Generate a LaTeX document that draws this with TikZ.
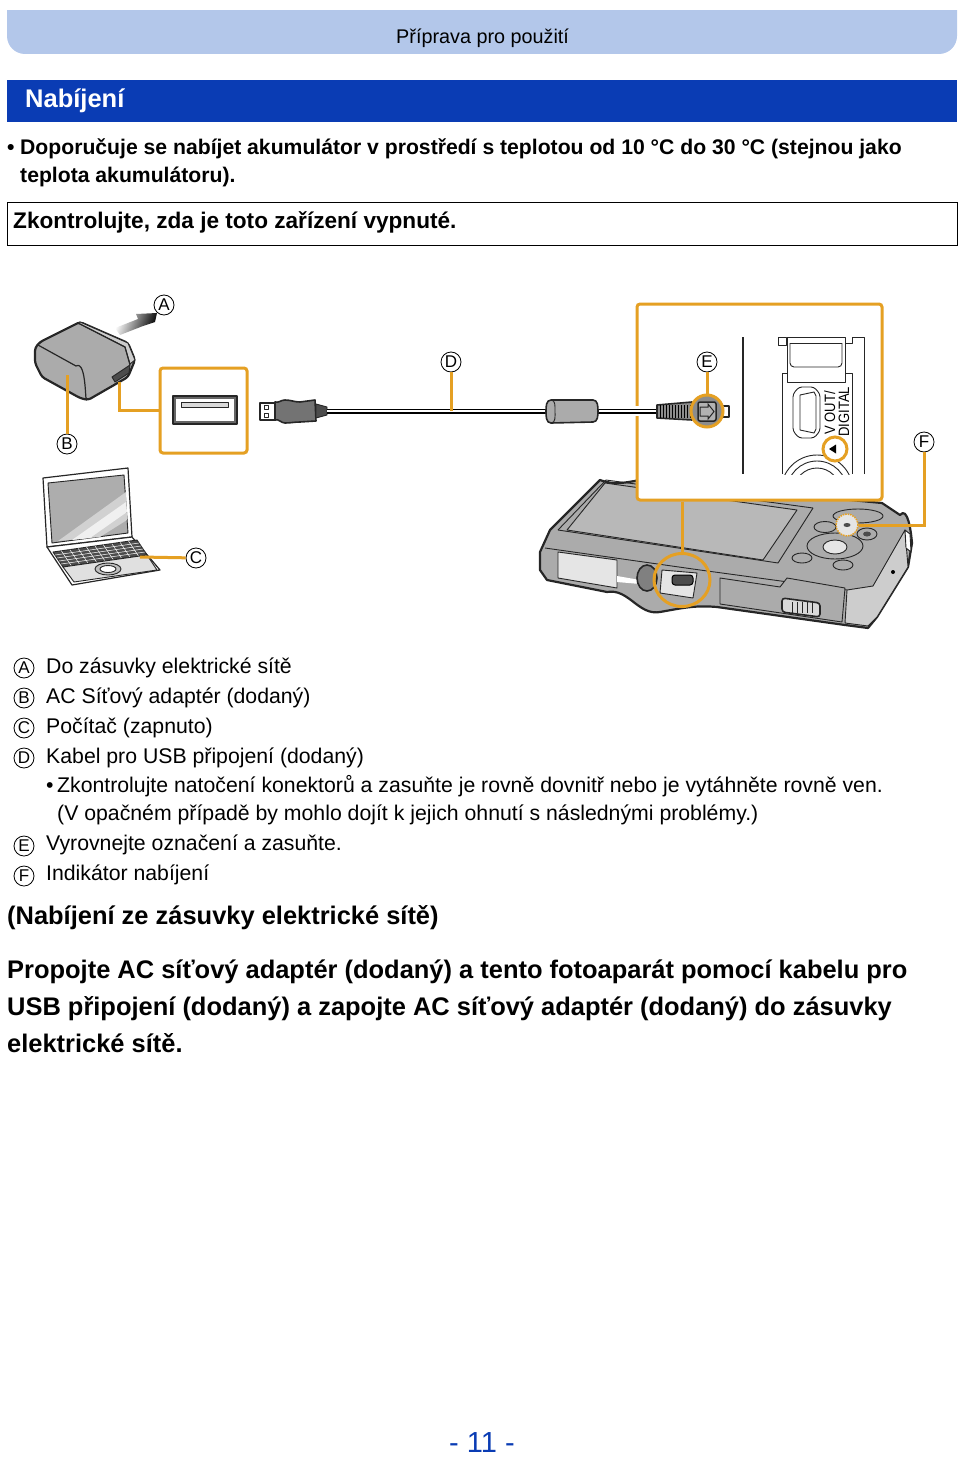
\documentclass[tikz,border=0pt]{standalone}
\usepackage{fontspec}
\setmainfont{Liberation Sans}
\usepackage{xcolor}
\usetikzlibrary{arrows.meta, positioning, calc, shapes.geometric}
\definecolor{leadcol}{HTML}{E5A023}
\definecolor{headcol}{HTML}{B3C7EA}
\definecolor{bandcol}{HTML}{0A3CB4}
\definecolor{bodycol}{HTML}{ABABAB}

\begin{document}
\begin{tikzpicture}[
            x=1pt, y=-1pt,
            every node/.style={inner sep=0pt},
            bodytext/.style={anchor=base west, font=\fontsize{21.25}{24}\selectfont},
            boldtext/.style={anchor=base west, font=\fontsize{21.17}{24}\selectfont\bfseries},
            bigtext/.style={anchor=base west, font=\fontsize{25.45}{30}\selectfont\bfseries},
            callout/.style={draw, circle, line width=0.8pt, minimum size=20pt, font=\fontsize{17}{17}\selectfont},
            leader/.style={draw=leadcol, line width=3pt},
            framebox/.style={draw=leadcol, line width=3pt, rounded corners=3pt, fill=white},
            outline/.style={draw=black!85, line width=1.6pt, line join=round},
            thinline/.style={draw=black!85, line width=0.9pt, line join=round},
        ]
        \useasboundingbox (0,0) rectangle (960,1461);

        % page head
        \fill[headcol, rounded corners=18pt] (7,-20) rectangle (957,54);
        \fill[white] (0,0) rectangle (960,10);
        \node[anchor=base west, font=\fontsize{19.8}{24}\selectfont] (headtext) at (396,44) {Příprava pro použití};
        \fill[bandcol] (7,80) rectangle (957,122);
        \node[anchor=base west, text=white, font=\fontsize{25.5}{30}\selectfont\bfseries] (bandtext) at (25,108) {Nabíjení};
        \node[boldtext] (bullet) at (7,154) {•};
        \node[boldtext] (note1) at (20,154) {Doporučuje se nabíjet akumulátor v prostředí s teplotou od 10 °C do 30 °C (stejnou jako};
        \node[boldtext] (note2) at (20,182) {teplota akumulátoru).};
        \draw[line width=1pt] (7,202.5) rectangle (957,245);
        \node[boldtext, font=\fontsize{22.6}{24}\selectfont\bfseries] (check) at (13,228) {Zkontrolujte, zda je toto zařízení vypnuté.};

        % camera
        \draw[outline, fill=bodycol, line width=2.2pt] (540,552) -- (550,530) -- (600,480) to[out=-20, in=190] (640,480) -- (882,503) -- (900,515) to[out=50, in=95] (912,543) -- (908,567) -- (877,617) -- (868,628) -- (845,625) -- (717,607) to[out=175, in=10] (660,612) to[out=190, in=10] (607,592) -- (547,580) -- (540,570) -- cycle;
        \draw[thinline, fill=bodycol!60!white] (847,590) -- (873,586) -- (905,530) -- (908,567) -- (877,617) -- (868,626) -- (845,623) -- cycle;
        \draw[thinline, fill=white] (905,530) -- (910,534) -- (911,552) -- (906,548) -- cycle;
        \draw[thinline] (558,530) -- (606,480) -- (813,508);
        \draw[thinline] (558,530) -- (778,563) -- (813,508);
        \draw[thinline, fill=bodycol!85!white] (567,530) -- (605,483) -- (797,510) -- (763,560) -- cycle;
        \draw[thinline] (545,548) -- (700,570) -- (847,590);
        \draw[thinline, fill=black!10] (558,552) -- (617,560) -- (617,588) -- (558,578) -- cycle;
        \fill[white] (617,576) -- (640,580) -- (640,584) -- (617,582) -- cycle;
        \draw[outline, fill=black!50] (647,578) ellipse (10pt and 13pt);
        \draw[thinline, fill=black!10] (662,570) -- (697,573) -- (693,598) -- (660,593) -- cycle;
        \draw[line width=1pt, fill=black!70, rounded corners=3pt] (672,575) rectangle (693,585);
        \draw[thinline, fill=bodycol] (720,578) -- (780,587) -- (787,578) -- (845,588) -- (842,622) -- (720,604) -- cycle;
        \draw[outline, fill=black!15, rounded corners=3pt] (782,598) -- (820,603) -- (820,617) -- (782,612) -- cycle;
        \foreach \sx in {792,797,...,812} \draw[thinline] (\sx,602) -- (\sx,613);
        \draw[thinline, fill=bodycol] (835,546) ellipse (28pt and 13pt);
        \draw[thinline, fill=black!10] (835,547) ellipse (12pt and 7pt);
        \draw[thinline, fill=bodycol] (802,558) ellipse (10pt and 5pt);
        \draw[thinline, fill=bodycol] (843,565) ellipse (10pt and 5pt);
        \draw[thinline, fill=bodycol] (825,527) ellipse (11pt and 5.5pt);
        \draw[thinline, fill=bodycol] (867,534) ellipse (10pt and 6pt);
        \fill[black!70] (867,534) ellipse (4pt and 2.5pt);
        \draw[thinline, fill=bodycol] (858,516) ellipse (25pt and 7pt);
        \fill[black] (893,572) circle (2pt);
        \node[draw=leadcol, line width=1.5pt, densely dotted, fill=black!10, circle, minimum size=22pt] (ledspot) at (847,525) {};
        \fill[black!70] (ledspot) ellipse (3.5pt and 2pt);

        % adapter
        \draw[outline, fill=bodycol, line width=2.2pt, rounded corners=3pt] (35,348) -- (40,342) -- (80,322) -- (128,343) -- (135,360) -- (128,377) -- (88,400) -- (80,398) -- (42,377) -- (35,363) -- cycle;
        \draw[thinline, fill=black!20] (80,322) -- (128,343) -- (135,360) -- (130,364) -- (125,347) -- (78,323) -- cycle;
        \draw[thinline, line width=1.2pt] (38,345) -- (76,366) to[out=30, in=-100] (87,398);
        \draw[thinline, line width=1.2pt] (78,323) -- (125,347) -- (130,365);
        \draw[thinline, fill=black!70] (112,377) -- (130,365) -- (129,373) -- (115,382) -- cycle;

        % flow arrow
        \shade[left color=white, right color=black, shading angle=70] (115,328) -- (138,319) -- (136,314) -- (157,313) -- (155,322) -- (143,326) -- (120,335) -- cycle;

        % laptop
        \draw[outline, fill=white, line width=1.2pt] (43,478) -- (128,468) -- (132,537) -- (47,547) -- cycle;
        \draw[thinline, fill=black!32] (48,483) -- (124,475) -- (128,533) -- (52,543) -- cycle;
        \fill[black!18] (58,541) -- (126,492) -- (127,520) -- (100,537) -- cycle;
        \fill[black!6] (72,540) -- (126,502) -- (127,512) -- (90,538) -- cycle;
        \draw[outline, fill=white, line width=1.2pt] (47,547) -- (132,537) -- (160,570) -- (72,585) -- cycle;
        \draw[thinline, fill=black!70] (53,552) -- (137,540) -- (147,555) -- (63,567) -- cycle;
        \foreach \kx in {0.2,0.4,0.6,0.8} \draw[white, line width=0.5pt] ($(53,552)!\kx!(63,567)$) -- ($(137,540)!\kx!(147,555)$);
        \foreach \kx in {0.1,0.2,...,0.9} \draw[white, line width=0.5pt] ($(53,552)!\kx!(137,540)$) -- ($(63,567)!\kx!(147,555)$);
        \draw[thinline, fill=black!12] (63,567) -- (147,555) -- (157,570) -- (74,582) -- cycle;
        \draw[thinline, fill=black!25] (108,569) ellipse (13pt and 6pt);
        \draw[thinline, fill=white] (108,569) ellipse (8pt and 3.5pt);

        % usb socket box
        \node[framebox, minimum width=87pt, minimum height=85pt, anchor=north west] (usbbox) at (158.5,366.5) {};
        \draw[thinline, fill=black!60, line width=1.2pt] (173,396) rectangle (237,424);
        \fill[white] (176,399) rectangle (234,421);
        \draw[thinline, fill=black!15] (181,402) rectangle (228,407);
        \coordinate (usbport) at (119,382);

        % zoom box, cable runs over its edge
        \node[framebox, minimum width=245pt, minimum height=196pt, anchor=north west] (zoombox) at (635.5,302.5) {};
        \fill[white] (630,406) rectangle (645,416);

        % panel in zoom box
        \draw[black!85, line width=2.4pt] (743,337) -- (743,474);
        \begin{scope}
            \clip (770,330) rectangle (870,474);
            \draw[thinline] (782,474) -- (782,373) -- (787,373) -- (787,337) -- (845,337) -- (845,382) -- (787,382) -- (787,373);
            \draw[thinline] (845,373) -- (852,373) -- (852,474);
            \draw[thinline] (864,474) -- (864,337) -- (852,337) -- (852,343) -- (845,343);
            \draw[thinline] (778,337) rectangle (786,345);
            \draw[thinline] (842,343) -- (790,343);
            \draw[thinline, rounded corners=4pt] (790,343) -- (790,367) -- (842,367) -- (842,343);
            \draw[thinline] (817,491) circle (36pt);
            \draw[thinline] (817,491) circle (30pt);
            \draw[thinline] (817,491) circle (23pt);
        \end{scope}
        \draw[thinline, rounded corners=3pt] (799,387) -- (814,387) -- (820,394) -- (820,431) -- (814,438) -- (799,438) -- (793,431) -- (793,394) -- cycle;
        \draw[thinline] (800,395) -- (814,392) -- (816,396) -- (816,429) -- (814,433) -- (800,430) -- cycle;
        \node[rotate=90, xscale=0.87, anchor=base west, font=\fontsize{15}{15}\selectfont] (avtext) at (835,435) {V OUT/};
        \node[rotate=90, xscale=0.87, anchor=base west, font=\fontsize{15}{15}\selectfont] (digtext) at (849,437) {DIGITAL};
        \node[draw=leadcol, line width=3pt, circle, minimum size=24pt, fill=white] (ledring) at (835,449) {};
        \fill[black] (829,449) -- (836,444.5) -- (836,453.5) -- cycle;

        % cable
        \draw[outline] (260,403) rectangle (275,420);
        \draw[thinline] (264,405) rectangle (268,409);
        \draw[thinline] (264,413) rectangle (268,417);
        \draw[outline, fill=black!55] (275,402) to[out=-15, in=180] (285,400) to[out=0, in=180] (300,402) -- (315,400) -- (316,421) -- (300,422) to[out=180, in=0] (285,423) to[out=180, in=20] (275,420) -- cycle;
        \draw[thinline, fill=black!70] (316,404) -- (327,407) -- (327,415) -- (316,418) -- cycle;
        \draw[black, line width=5pt] (327,411) -- (657,411);
        \draw[white, line width=1.2pt] (327,411) -- (657,411);
        \draw[outline, fill=bodycol] (551,400) -- (593,400) to[out=0, in=90] (598,411) to[out=-90, in=0] (593,422) -- (551,423) to[out=180, in=-90] (546,411) to[out=90, in=180] (551,400) -- cycle;
        \draw[thinline] (551,400) to[out=0, in=90] (555,411) to[out=-90, in=0] (551,423);
        \draw[outline, fill=black!45] (657,405) -- (692,402) -- (692,420) -- (657,418) -- cycle;
        \foreach \px in {660,663,...,690} \draw[black, line width=0.8pt] (\px,405) -- (\px,418);
        \draw[thinline, line width=1.2pt] (720,406) rectangle (729,417);
        \node[draw=leadcol, line width=3pt, circle, minimum size=32pt, fill=black!45] (plugring) at (707,411) {};
        \draw[black!85, line width=1.5pt, fill=black!30, rounded corners=2pt] (698,402) rectangle (716,421);
        \draw[black!85, line width=1pt] (700,407) -- (708,407) -- (708,404) -- (714,411.5) -- (708,419) -- (708,416) -- (700,416) -- cycle;

        % camera port ring
        \node[draw=leadcol, line width=3pt, ellipse, minimum width=56pt, minimum height=53pt] (portring) at (682,580) {};

        % callouts
        \node[callout] (labA) at (164,305) {A};
        \node[callout] (labB) at (67,444) {B};
        \node[callout] (labC) at (196,558) {C};
        \node[callout] (labD) at (451,362) {D};
        \node[callout] (labE) at (707,362) {E};
        \node[callout] (labF) at (924,442) {F};
        \coordinate (adapterpt) at (67,375);
        \coordinate (laptoppt) at (140,557);
        \coordinate (cablept) at (451,411);

        \draw[leader] (labB) -- (adapterpt);
        \draw[leader] (labC) -- (laptoppt);
        \draw[leader] (labD) -- (cablept);
        \draw[leader] (labE) -- (plugring);
        \draw[leader] (labF) |- (ledspot.east);
        \draw[leader] (usbport) |- (usbbox.west);
        \draw[leader] (zoombox.south -| portring) -- (portring);

        % legend
        \node[callout] (keyA) at (24,668) {A};
        \node[bodytext] (textA) at (46,673) {Do zásuvky elektrické sítě};
        \node[callout] (keyB) at (24,698) {B};
        \node[bodytext] (textB) at (46,703) {AC Síťový adaptér (dodaný)};
        \node[callout] (keyC) at (24,728) {C};
        \node[bodytext] (textC) at (46,733) {Počítač (zapnuto)};
        \node[callout] (keyD) at (24,758) {D};
        \node[bodytext] (textD) at (46,763) {Kabel pro USB připojení (dodaný)};
        \node[bodytext] (bulletD) at (46,792) {•};
        \node[bodytext] (textD1) at (57,792) {Zkontrolujte natočení konektorů a zasuňte je rovně dovnitř nebo je vytáhněte rovně ven.};
        \node[bodytext] (textD2) at (57,820) {(V opačném případě by mohlo dojít k jejich ohnutí s následnými problémy.)};
        \node[callout] (keyE) at (24,846) {E};
        \node[bodytext] (textE) at (46,850) {Vyrovnejte označení a zasuňte.};
        \node[callout] (keyF) at (24,876) {F};
        \node[bodytext] (textF) at (46,880) {Indikátor nabíjení};

        \node[bigtext] (subhead) at (7,924) {(Nabíjení ze zásuvky elektrické sítě)};
        \node[bigtext] (para1) at (7,978) {Propojte AC síťový adaptér (dodaný) a tento fotoaparát pomocí kabelu pro};
        \node[bigtext] (para2) at (7,1015) {USB připojení (dodaný) a zapojte AC síťový adaptér (dodaný) do zásuvky};
        \node[bigtext] (para3) at (7,1052) {elektrické sítě.};

        \node[anchor=base west, text=bandcol, font=\fontsize{29}{32}\selectfont] (pagenum) at (449,1452) {- 11 -};
\end{tikzpicture}
\end{document}
